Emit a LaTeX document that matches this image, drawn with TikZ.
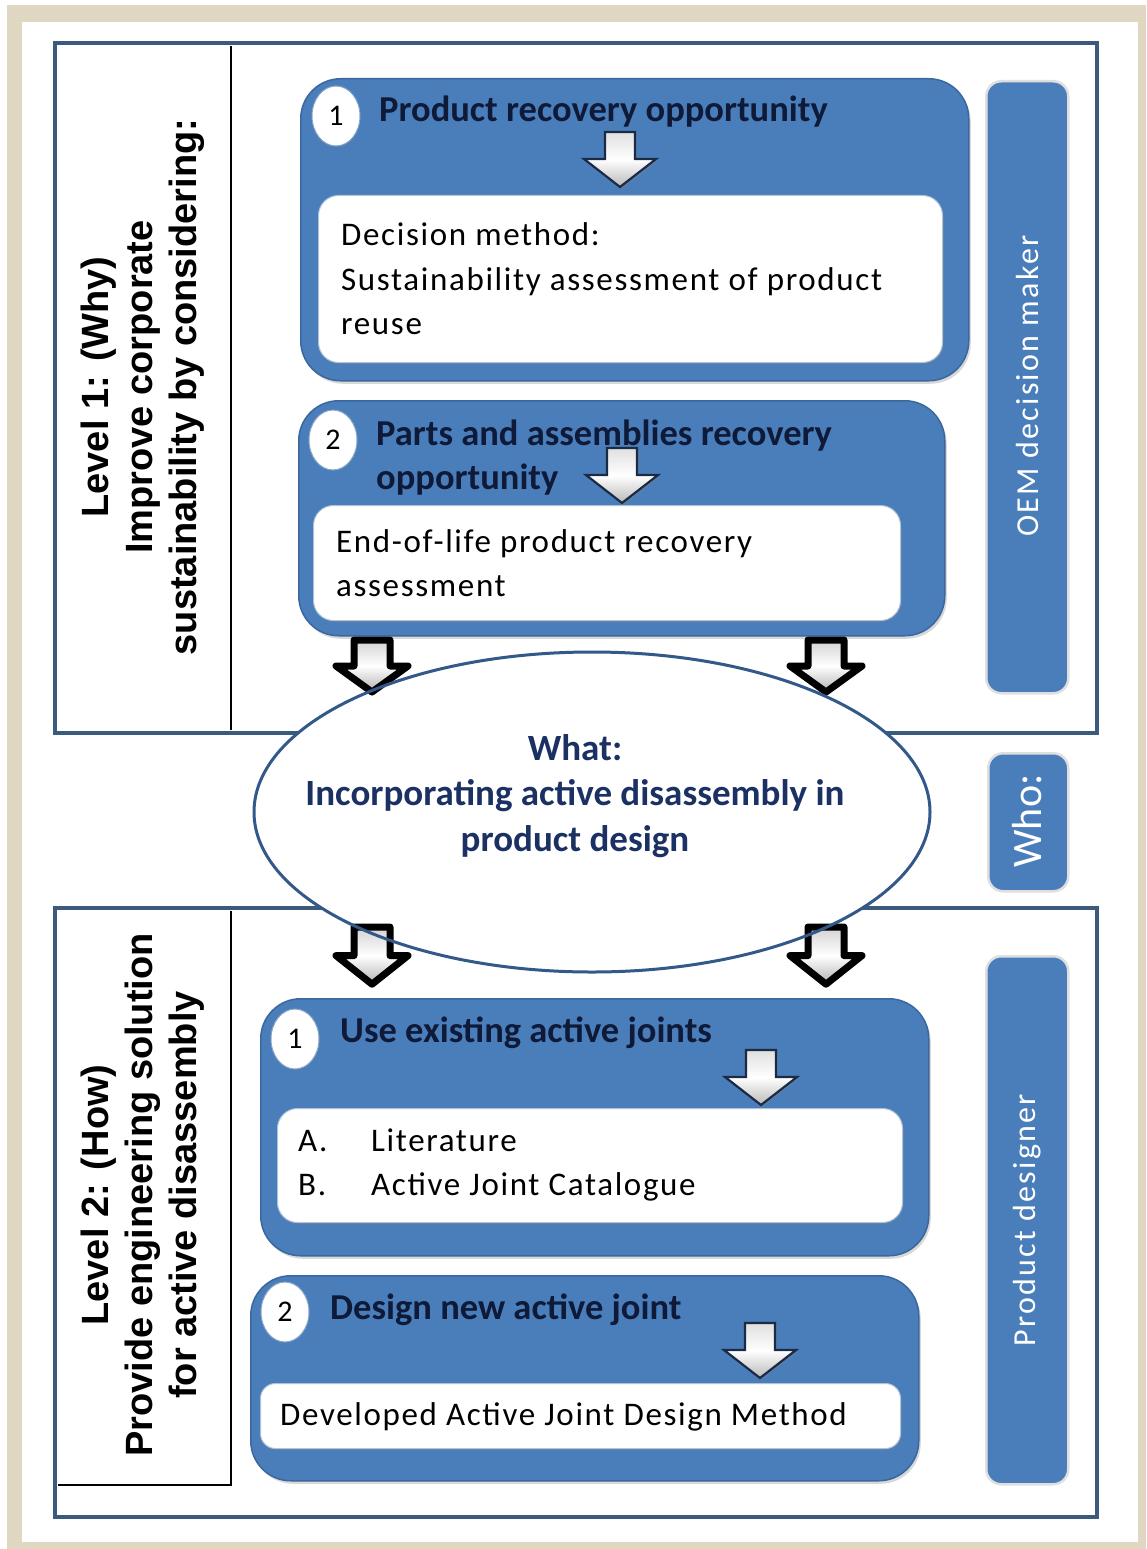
\documentclass[tikz,border=0pt]{standalone}
\usepackage{fontspec}
\setmainfont{Carlito}
\newfontfamily\labfont{Liberation Sans}
\newfontfamily\bodyfont{Carlito}[LetterSpace=5]
\newfontfamily\sidefont{Carlito}[LetterSpace=7]
\usetikzlibrary{shadows,shapes.geometric}
\definecolor{beigeframe}{HTML}{DFD7C2}
\definecolor{panelline}{HTML}{3C5A7C}
\definecolor{boxblue}{HTML}{4A7EBB}
\definecolor{boxedge}{HTML}{3A679E}
\definecolor{navytext}{HTML}{0E1A38}
\definecolor{elltext}{HTML}{1B3164}
\definecolor{ellline}{HTML}{33598A}
\definecolor{arrline}{HTML}{1B2A45}
\begin{document}
\begin{tikzpicture}[x=1pt,y=-1pt,
  bluebox/.style={fill=boxblue, draw=boxedge, line width=1.5pt, rounded corners=40pt, inner sep=0pt,
    drop shadow={opacity=0.3,shadow xshift=2pt,shadow yshift=-3pt}},
  whitebox/.style={fill=white, draw=boxedge!40, line width=1pt, rounded corners=20pt, inner sep=0pt,
    drop shadow={opacity=0.25,shadow xshift=1pt,shadow yshift=-2pt}},
  numcirc/.style={ellipse, fill=white, draw=boxedge!60, line width=1pt, minimum width=48pt, minimum height=60pt, inner sep=0pt, font=\fontsize{30}{36}\selectfont},
  hdr/.style={text=navytext, font=\bfseries\fontsize{36.5}{44}\selectfont, align=left, inner sep=0pt},
  bodytext/.style={text=black, font=\bodyfont\fontsize{33}{44.5}\selectfont, align=left, inner sep=0pt},
  sidebox/.style={fill=boxblue, draw=gray!25, line width=2.5pt, rounded corners=15pt, inner sep=0pt},
  sidetext/.style={text=white, font=\sidefont\fontsize{32}{38}\selectfont, rotate=90, inner sep=0pt},
  lab/.style={font=\labfont\bfseries\fontsize{38}{44}\selectfont, align=center, rotate=90, inner sep=0pt},
  smallarr/.pic={\path[draw=arrline, line width=2.2pt, top color=gray!25, bottom color=gray!55, middle color=white,
      drop shadow={opacity=0.45, shadow xshift=1.5pt, shadow yshift=-2pt}]
      (-15,0) -- (15,0) -- (15,27) -- (36,27) -- (0,55) -- (-36,27) -- (-15,27) -- cycle;},
  bigarr/.pic={\path[draw=black, line width=7pt, line join=round, top color=gray!35, bottom color=gray!60, middle color=white]
      (-18,0) -- (18,0) -- (18,26) -- (36,26) -- (0,52) -- (-36,26) -- (-18,26) -- cycle;}
]
\useasboundingbox (0,0) rectangle (1146,1549);
% frame
\fill[white] (0,0) rectangle (1146,1549);
\fill[beigeframe] (7,5) rectangle (1146,1549);
\fill[white] (22,22) rectangle (1138,1542);

% panels
\draw[panelline, line width=3.5pt] (55,43) rectangle (1097,733);
\draw[black, line width=1.2pt] (231,46) -- (231,730);
\draw[panelline, line width=3.5pt] (55,908) rectangle (1097,1517);
\draw[black, line width=1.2pt] (231,911) -- (231,1485) -- (58,1485);

% left labels
\node[lab] (lab1) at (143,387) {Level 1: (Why)\\Improve corporate\\sustainability by considering:};
\node[lab] (lab2) at (143,1195) {Level 2: (How)\\Provide engineering solution\\for active disassembly};

% top box 1
\node[bluebox, anchor=north west, minimum width=668pt, minimum height=302pt] (t1) at (300,78) {};
\node[whitebox, anchor=north west, minimum width=624pt, minimum height=167pt] (t1w) at (318,195) {};
\node[numcirc] (t1n) at (336,116) {1};
\node[hdr, anchor=west] (t1h) at (379,112) {Product recovery opportunity};
\node[bodytext, anchor=west] (t1b) at (341,279) {Decision method:\\Sustainability assessment of product\\reuse};
\pic at (620,132) {smallarr};

% top box 2
\node[bluebox, anchor=north west, minimum width=646pt, minimum height=235pt] (t2) at (298,400) {};
\node[whitebox, anchor=north west, minimum width=587pt, minimum height=115pt] (t2w) at (313,505) {};
\node[numcirc] (t2n) at (333,440) {2};
\node[hdr, anchor=west] (t2h) at (376,458) {Parts and assemblies recovery\\opportunity};
\node[bodytext, anchor=west] (t2b) at (336,563) {End-of-life product recovery\\assessment};
\pic at (622,448) {smallarr};

% bottom box 1
\node[bluebox, anchor=north west, minimum width=668pt, minimum height=257pt] (b1) at (260,998) {};
\node[whitebox, anchor=north west, minimum width=625pt, minimum height=114pt] (b1w) at (277,1108) {};
\node[numcirc] (b1n) at (295,1039) {1};
\node[hdr, anchor=west] (b1h) at (340,1033) {Use existing active joints};
\node[bodytext, anchor=west] (b1b) at (298,1165) {\makebox[73pt][l]{A.}Literature\\\makebox[73pt][l]{B.}Active Joint Catalogue};
\pic at (761,1050) {smallarr};

% bottom box 2
\node[bluebox, anchor=north west, minimum width=668pt, minimum height=205pt] (b2) at (250,1275) {};
\node[whitebox, rounded corners=15pt, anchor=north west, minimum width=640pt, minimum height=65pt] (b2w) at (260,1383) {};
\node[numcirc] (b2n) at (285,1312) {2};
\node[hdr, anchor=west] (b2h) at (330,1310) {Design new active joint};
\node[bodytext, anchor=west] (b2b) at (280,1417) {Developed Active Joint Design Method};
\pic at (760,1323) {smallarr};

% side boxes
\node[sidebox, anchor=north west, minimum width=82pt, minimum height=612pt] (oem) at (985,80) {};
\node[sidetext] (oemt) at (1027,386) {OEM decision maker};
\node[sidebox, anchor=north west, minimum width=80pt, minimum height=138pt] (who) at (987,752) {};
\node[sidetext, font=\fontsize{42}{48}\selectfont] (whot) at (1027,821) {Who:};
\node[sidebox, anchor=north west, minimum width=82pt, minimum height=528pt] (pd) at (985,955) {};
\node[sidetext] (pdt) at (1027,1220) {Product designer};

% ellipse
\node[ellipse, fill=white, minimum width=676pt, minimum height=320pt, inner sep=0pt] (what) at (592,812) {};
\pic at (372,640) {bigarr};
\pic at (826,640) {bigarr};
\pic[yscale=1.1] at (372,927) {bigarr};
\pic[yscale=1.1] at (826,927) {bigarr};
\draw[ellline, line width=3pt] (what.center) ellipse [x radius=338pt, y radius=160pt];
\node[align=center, text=elltext, font=\bfseries\fontsize{37}{45.5}\selectfont, inner sep=0pt] (wt) at (575,796) {What:\\Incorporating active disassembly in\\product design};
\end{tikzpicture}
\end{document}
